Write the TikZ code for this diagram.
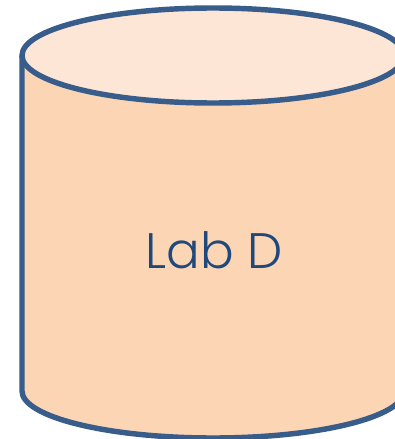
\documentclass[tikz,border=0pt]{standalone}
\usepackage{fontspec}
\setmainfont{Poppins Light}
\usepackage{xcolor}
\definecolor{labline}{HTML}{385D8A}
\definecolor{labside}{HTML}{FCD5B5}
\definecolor{labtop}{HTML}{FDE6D6}
\definecolor{labtext}{HTML}{1F497D}
\tikzset{labdrum/.style={draw=labline, line width=3.1pt, line join=round}}
\begin{document}
\begin{tikzpicture}[x=0.02cm, y=-0.02cm]
    % Khung hinh theo kich thuoc goc
    \useasboundingbox (0,0) rectangle (395,439);
    \fill[white] (0,0) rectangle (395,439);

    % Than tru va mat tren
    \draw[labdrum, fill=labside] (22,55.5) -- (22,391) arc[start angle=180, end angle=0, x radius=191, y radius=47] -- (404,55.5);
    \draw[labdrum, fill=labtop] (213,55.5) ellipse[x radius=191, y radius=47.5];

    % Nhan
    \node[text=labtext, font=\fontsize{28.4}{34}\selectfont] (lab) at (214.5,250) {Lab D};
\end{tikzpicture}
\end{document}
